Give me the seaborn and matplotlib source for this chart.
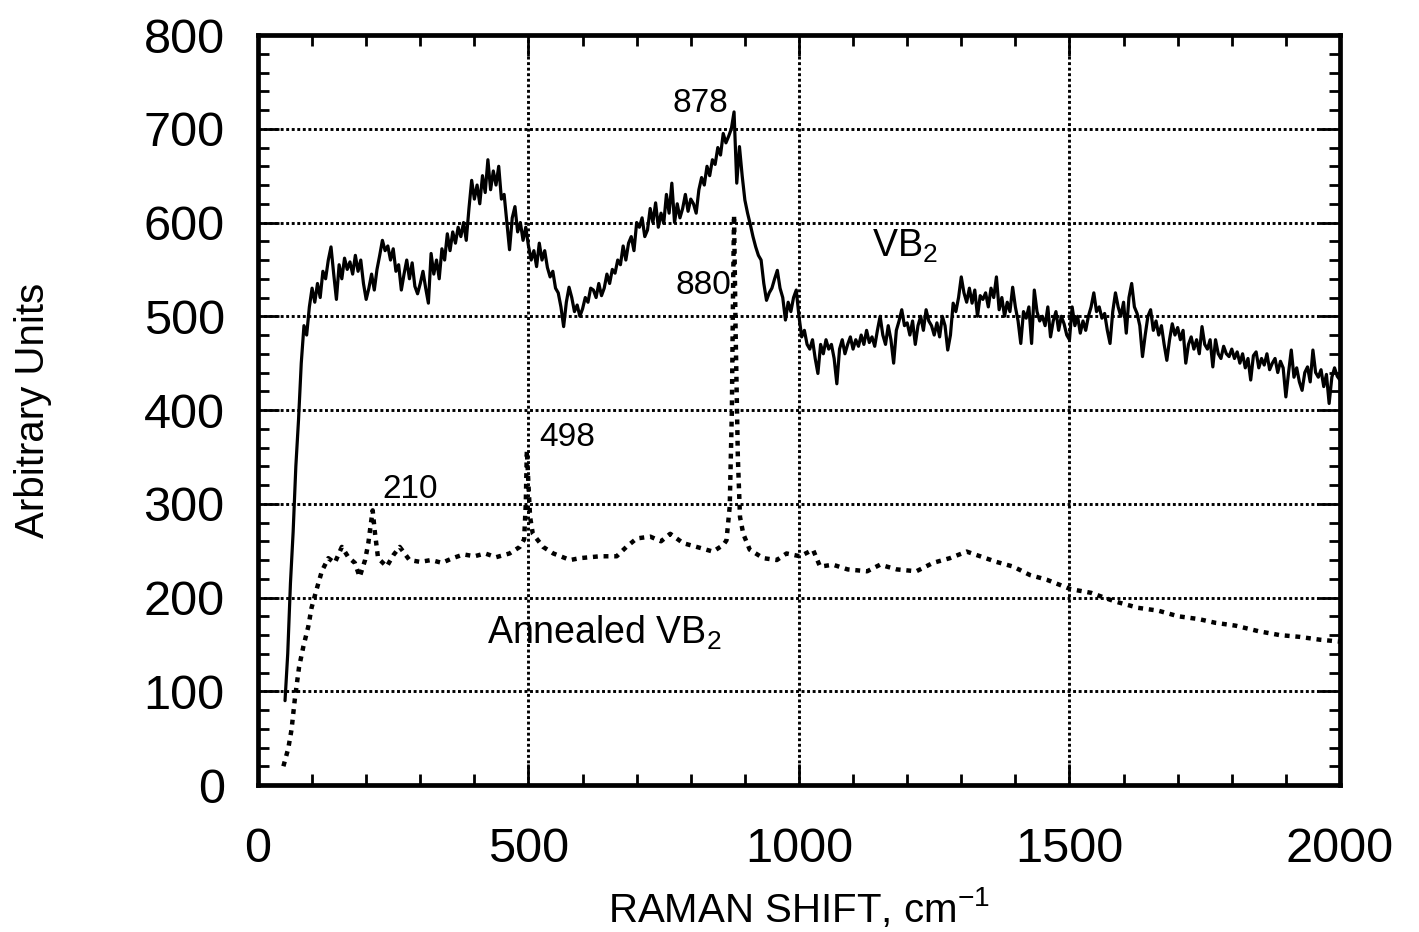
import numpy as np
import pandas as pd
import seaborn as sns
from matplotlib import pyplot as plt
from matplotlib.ticker import MultipleLocator

##### Data #####
# VB2 spectrum, sampled every 5 cm-1 from 50 to 2000
vb2_shift = np.arange(50, 2001, 5)
vb2_counts = [
    90, 140, 215, 270, 340, 390, 450, 490, 480, 510,
    530, 515, 535, 520, 548, 540, 560, 574, 545, 518, 555, 540, 562, 550, 558, 545, 565, 548, 560, 535,
    518, 530, 545, 528, 550, 565, 581, 570, 575, 560, 572, 548, 555, 528, 545, 560, 540, 557, 532, 524,
    535, 548, 530, 514, 567, 545, 560, 540, 572, 560, 588, 570, 590, 578, 595, 585, 600, 581, 615, 645,
    625, 640, 620, 650, 632, 667, 635, 655, 640, 660, 625, 630, 600, 571, 605, 617, 590, 600, 581, 595,
    575, 560, 570, 553, 578, 560, 570, 552, 542, 548, 530, 525, 510, 489, 515, 531, 520, 505, 512, 500,
    508, 520, 515, 530, 528, 520, 535, 522, 530, 545, 535, 550, 546, 560, 555, 575, 560, 578, 585, 570,
    600, 595, 605, 585, 592, 615, 600, 621, 595, 610, 599, 630, 610, 642, 600, 620, 605, 615, 630, 612,
    625, 620, 610, 635, 648, 640, 660, 650, 667, 662, 680, 672, 695, 685, 692, 700, 718, 642, 681, 650,
    624, 610, 598, 585, 574, 565, 560, 535, 517, 525, 530, 540, 549, 530, 520, 496, 515, 505, 520, 528,
    500, 478, 485, 470, 465, 475, 455, 439, 470, 460, 475, 465, 470, 455, 428, 465, 475, 460, 470, 478,
    465, 475, 468, 480, 470, 485, 472, 478, 468, 485, 500, 480, 470, 490, 475, 450, 485, 495, 507, 490,
    493, 480, 495, 470, 490, 500, 485, 507, 495, 490, 480, 493, 478, 500, 490, 464, 480, 514, 505, 520,
    542, 525, 515, 530, 514, 528, 500, 522, 518, 525, 510, 530, 520, 542, 507, 520, 500, 515, 505, 531,
    510, 495, 471, 505, 498, 510, 471, 528, 505, 495, 500, 490, 510, 478, 495, 505, 485, 500, 492, 480,
    475, 510, 490, 500, 482, 495, 485, 500, 510, 525, 505, 510, 498, 503, 485, 471, 505, 525, 510, 500,
    515, 482, 520, 535, 510, 503, 490, 457, 480, 500, 507, 485, 495, 480, 490, 470, 453, 475, 492, 480,
    488, 475, 485, 450, 470, 478, 465, 475, 460, 489, 470, 465, 475, 446, 475, 460, 455, 468, 460, 457,
    465, 455, 462, 450, 460, 445, 455, 432, 458, 462, 445, 455, 448, 460, 443, 450, 455, 440, 452, 445,
    414, 440, 464, 435, 445, 430, 421, 440, 446, 430, 464, 440, 435, 443, 425, 438, 407, 435, 445, 436,
    432,
]

# Annealed VB2 spectrum
annealed_shift = [
    47, 56, 62, 68, 76, 84, 93, 99, 108, 118, 130, 142, 155, 167, 179, 188, 198, 204, 208, 212,
    216, 222, 238, 250, 262, 280, 300, 320, 340, 360, 380, 400, 420, 440, 465, 484, 492, 495, 497, 500,
    503, 508, 527, 546, 577, 595, 632, 663, 681, 700, 725, 745, 762, 786, 817, 841, 860, 866, 872, 876,
    878, 880, 883, 887, 891, 897, 909, 934, 959, 977, 1002, 1026, 1039, 1063, 1090, 1126, 1150, 1181, 1217, 1248,
    1279, 1310, 1335, 1365, 1396, 1427, 1458, 1502, 1540, 1583, 1627, 1664, 1701, 1739, 1770, 1807, 1850, 1888, 1926, 1963,
    2000,
]
annealed_counts = [
    20, 39, 59, 91, 126, 148, 169, 189, 208, 228, 242, 237, 254, 243, 237, 222, 240, 258, 276, 293,
    270, 242, 233, 245, 254, 240, 238, 240, 237, 242, 246, 244, 247, 243, 247, 254, 262, 300, 357, 320,
    286, 268, 254, 247, 240, 242, 244, 244, 254, 263, 265, 260, 268, 258, 253, 249, 256, 261, 297, 400,
    520, 608, 480, 350, 286, 268, 251, 242, 240, 247, 244, 251, 233, 235, 230, 228, 235, 230, 228, 237,
    242, 249, 244, 238, 233, 224, 219, 209, 205, 196, 189, 186, 180, 177, 173, 170, 164, 160, 158, 155,
    153,
]

# peak labels
peak_labels = ['878', '880', '498', '210']
peak_label_x = [817, 823, 571, 281]
peak_label_y = [727, 533, 371, 315]

vb2_df = pd.DataFrame({'shift': vb2_shift, 'counts': vb2_counts})
annealed_df = pd.DataFrame({'shift': annealed_shift, 'counts': annealed_counts})

##### Plot #####
sns.set_style('ticks')
plt.rcParams['font.family'] = ['Liberation Sans', 'DejaVu Sans']
plt.rcParams['mathtext.default'] = 'regular'
plt.rcParams['text.color'] = 'black'
plt.rcParams['axes.labelcolor'] = 'black'
plt.rcParams['xtick.color'] = 'black'
plt.rcParams['ytick.color'] = 'black'

fig = plt.figure(figsize=(14.19, 9.32), dpi=100)
ax = fig.add_axes([0.1818, 0.1577, 0.7625, 0.8047])

# grid
for yv in range(100, 800, 100):
    ax.axhline(yv, color='black', lw=2.1, linestyle=(0, (1, 0.9)), zorder=1)
for xv in [500, 1000, 1500]:
    ax.axvline(xv, color='black', lw=2.1, linestyle=(0, (1, 0.9)), zorder=1)

sns.lineplot(data=vb2_df, x='shift', y='counts', ax=ax, color='black', lw=2.3,
             estimator=None, sort=False, zorder=3)
sns.lineplot(data=annealed_df, x='shift', y='counts', ax=ax, color='black', lw=3.2,
             linestyle=(0, (1.1, 1.3)), estimator=None, sort=False, zorder=3)

ax.set_xlim(0, 2000)
ax.set_ylim(0, 800)
ax.xaxis.set_major_locator(MultipleLocator(500))
ax.xaxis.set_minor_locator(MultipleLocator(100))
ax.yaxis.set_major_locator(MultipleLocator(100))
ax.yaxis.set_minor_locator(MultipleLocator(20))
ax.tick_params(which='both', direction='in', top=True, right=True, color='black', width=2)
ax.tick_params(which='major', length=15)
ax.tick_params(which='minor', length=8)
ax.tick_params(axis='y', which='major', labelsize=35, pad=24)
ax.tick_params(axis='x', which='major', labelsize=35, pad=30)
for side in ['left', 'right', 'bottom', 'top']:
    ax.spines[side].set_linewidth(3.4)
    ax.spines[side].set_color('black')

ax.set_xlabel('RAMAN SHIFT, cm$^{-1}$', fontsize=29)
ax.set_ylabel('Arbitrary Units', fontsize=29)
ax.xaxis.set_label_coords(0.5, -0.135)
ax.yaxis.set_label_coords(-0.19, 0.5)

# annotations
for lbl, lx, ly in zip(peak_labels, peak_label_x, peak_label_y):
    ax.text(lx, ly, lbl, fontsize=24, ha='center', va='center', color='black')
ax.text(1196, 575, 'VB$_2$', fontsize=27, ha='center', va='center', color='black')
ax.text(641, 162, 'Annealed VB$_2$', fontsize=27, ha='center', va='center', color='black')

plt.savefig('out.png', dpi=100)
